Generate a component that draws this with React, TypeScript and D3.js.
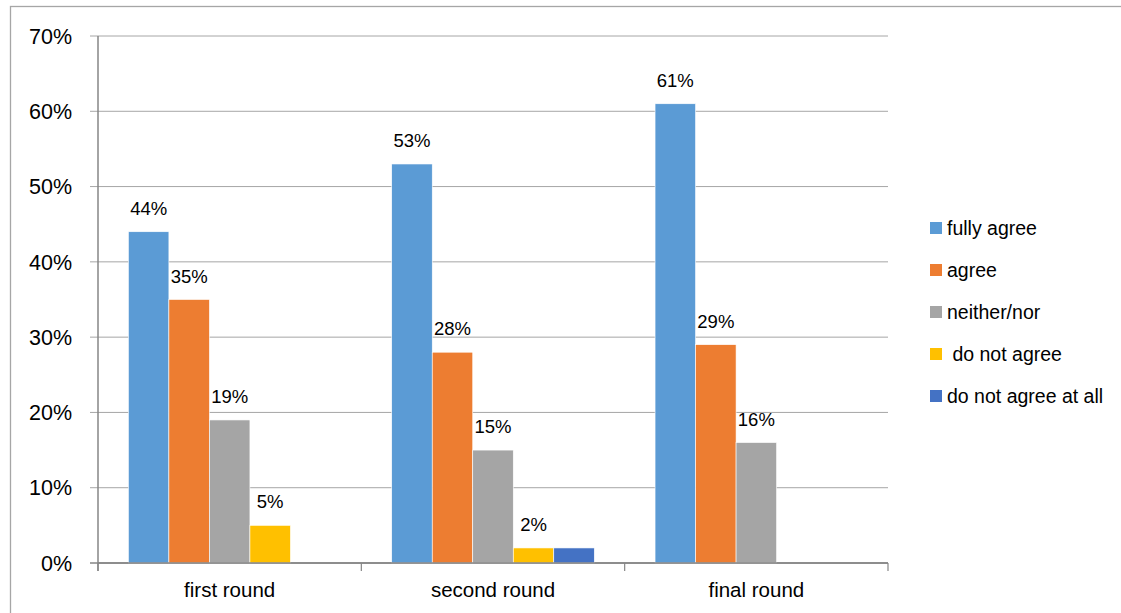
import React from "react";
import * as d3 from "d3";

const rounds = ["first round", "second round", "final round"];
const seriesNames = ["fully agree", "agree", "neither/nor", " do not agree", "do not agree at all"];
const seriesColors = ["#5B9BD5", "#ED7D31", "#A5A5A5", "#FFC000", "#4472C4"];
// values in percent, one array per round (null = no bar)
const firstRound = [44, 35, 19, 5, null];
const secondRound = [53, 28, 15, 2, 2];
const finalRound = [61, 29, 16, null, null];
const yTicks = [0, 10, 20, 30, 40, 50, 60, 70];
// labels shown above bars (second round "do not agree at all" has no label)
const showLabel = [
  [true, true, true, true, false],
  [true, true, true, true, false],
  [true, true, true, false, false],
];

const W = 1121;
const H = 613;
const FONT = "'Liberation Sans', Arial, sans-serif";

export default function App() {
  const values = [firstRound, secondRound, finalRound];
  const plot = { left: 98, right: 888, top: 36, bottom: 563 };

  const x0 = d3.scaleBand<string>().domain(rounds).range([plot.left, plot.right]).paddingInner(0).paddingOuter(0);
  const y = d3.scaleLinear().domain([0, 70]).range([plot.bottom, plot.top]);

  const band = x0.bandwidth();
  const barW = band / (seriesNames.length + 1.5);
  const gap = (band - barW * seriesNames.length) / 2;

  return (
    <svg width={W} height={H} style={{ display: "block", position: "absolute", left: 0, top: 0 }} fontFamily={FONT}>
      <rect x={0} y={0} width={W} height={H} fill="#fff" />
      <rect x={10.5} y={6.5} width={W + 10} height={H + 10} fill="none" stroke="#A6A6A6" strokeWidth={1.3} />

      {/* gridlines and y ticks */}
      {yTicks.map((t) => (
        <g key={t}>
          <line x1={plot.left - 8} x2={plot.right} y1={y(t)} y2={y(t)} stroke={t === 0 ? "#868686" : "#A6A6A6"} strokeWidth={t === 0 ? 1.5 : 1} />
          <text x={72} y={y(t)} dy="0.36em" textAnchor="end" fontSize={21.5} fill="#000">
            {t}%
          </text>
        </g>
      ))}
      <line x1={plot.left} x2={plot.left} y1={plot.top} y2={plot.bottom + 8} stroke="#868686" strokeWidth={1.5} />
      {[...rounds.map((r) => x0(r) as number), plot.right].map((xv, i) => (
        <line key={i} x1={xv} x2={xv} y1={plot.bottom} y2={plot.bottom + 8} stroke="#868686" strokeWidth={1.2} />
      ))}

      {/* bars */}
      {rounds.map((r, ri) =>
        values[ri].map((v, si) => {
          if (v == null) return null;
          const bx = (x0(r) as number) + gap + si * barW;
          return (
            <g key={r + si}>
              <rect x={bx} y={y(v)} width={barW} height={y(0) - y(v)} fill={seriesColors[si]} stroke="#fff" strokeWidth={0.6} />
              {showLabel[ri][si] && (
                <text x={bx + barW / 2} y={y(v) - 17} textAnchor="middle" fontSize={18.5} fill="#000">
                  {v}%
                </text>
              )}
            </g>
          );
        })
      )}
      <line x1={plot.left} x2={plot.right} y1={plot.bottom} y2={plot.bottom} stroke="#868686" strokeWidth={1.5} />

      {/* category labels */}
      {rounds.map((r) => (
        <text key={r} x={(x0(r) as number) + band / 2} y={597} textAnchor="middle" fontSize={20.5} fill="#000">
          {r}
        </text>
      ))}

      {/* legend */}
      {seriesNames.map((n, i) => (
        <g key={n} transform={`translate(930, ${228 + i * 42})`}>
          <rect x={0} y={-6} width={12} height={12} fill={seriesColors[i]} />
          <text x={17} y={0} dy="0.36em" fontSize={19.5} fill="#000" xmlSpace="preserve" style={{ whiteSpace: "pre" }}>
            {n}
          </text>
        </g>
      ))}
    </svg>
  );
}
